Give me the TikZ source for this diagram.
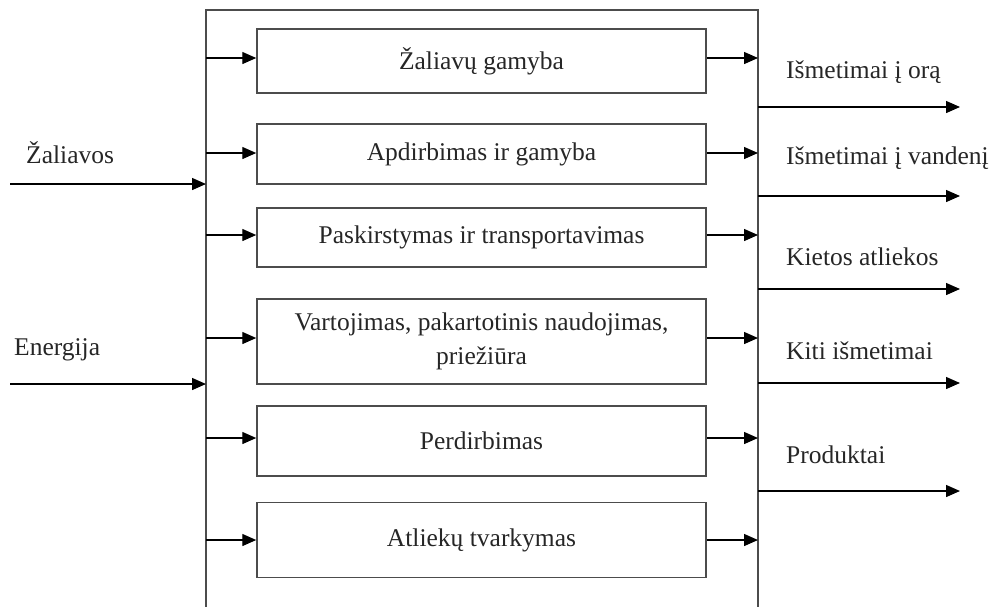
\documentclass[tikz,border=0pt]{standalone}
\usepackage{fontspec}
\setmainfont{Liberation Serif}
\usetikzlibrary{arrows.meta}
\begin{document}
\begin{tikzpicture}[x=1pt,y=-1pt,
  every node/.style={font=\fontsize{25.5}{34}\selectfont, text=black!85},
  frame/.style={draw=black!70, line width=1.6pt},
  procbox/.style={draw=black!70, line width=1.5pt, minimum width=449pt, inner sep=0pt, align=center},
  arr/.style={draw=black, line width=1.4pt, -{Triangle[length=14pt,width=12pt]}},
  lbl/.style={anchor=west, inner sep=0pt}]
\useasboundingbox (0,0) rectangle (992,606);

% outer frame, open at the bottom
\coordinate (fBL) at (206,612);
\coordinate (fTL) at (206,10);
\coordinate (fTR) at (758,10);
\coordinate (fBR) at (758,612);
\draw[frame] (fBL) -- (fTL) -- (fTR) -- (fBR);

% life-cycle stages
\node[procbox, minimum height=64pt] (b1) at (481.5,61) {Žaliavų gamyba};
\node[procbox, minimum height=60pt] (b2) at (481.5,154) {Apdirbimas ir gamyba};
\node[procbox, minimum height=59pt] (b3) at (481.5,237.5) {Paskirstymas ir transportavimas};
\node[procbox, minimum height=85pt] (b4) at (481.5,341.5) {Vartojimas, pakartotinis naudojimas,\\priežiūra};
\node[procbox, minimum height=70pt] (b5) at (481.5,441) {Perdirbimas};
\node[procbox, minimum height=75pt] (b6) at (481.5,540) {Atliekų tvarkymas};

% arrows into and out of each stage
\foreach \n/\yy in {b1/58, b2/153, b3/235, b4/338, b5/438, b6/540} {
  \coordinate (\n in) at (206,\yy);
  \coordinate (\n out) at (758,\yy);
  \draw[arr] (\n in) -- (\n.west |- \n in);
  \draw[arr] (\n.east |- \n out) -- (\n out);
}

% inputs
\coordinate (zs) at (10,184);
\coordinate (zt) at (206,184);
\coordinate (es) at (10,384);
\coordinate (et) at (206,384);
\draw[arr] (zs) -- (zt);
\draw[arr] (es) -- (et);
\node[lbl] (lz) at (26,153) {Žaliavos};
\node[lbl] (le) at (14,350) {Energija};

% outputs
\foreach \i/\yy/\ty/\txt in {1/107/72/{Išmetimai į orą}, 2/196/158/{Išmetimai į vandenį}, 3/289/257/{Kietos atliekos}, 4/383/351/{Kiti išmetimai}, 5/491/455/{Produktai}} {
  \coordinate (os\i) at (758,\yy);
  \coordinate (oe\i) at (960,\yy);
  \draw[arr] (os\i) -- (oe\i);
  \node[lbl] (ol\i) at (786,\ty) {\txt};
}
\end{tikzpicture}
\end{document}
